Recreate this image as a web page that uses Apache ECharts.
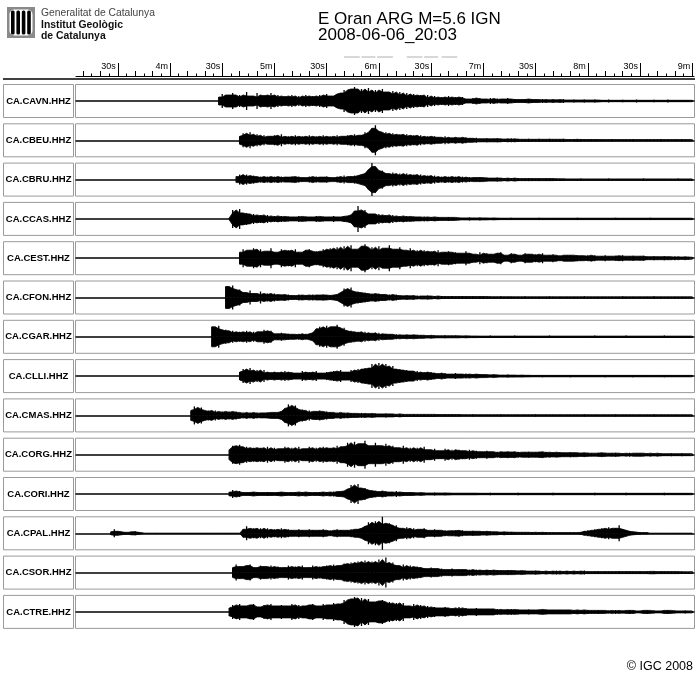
<!DOCTYPE html>
<html><head><meta charset="utf-8">
<script src="https://cdn.jsdelivr.net/npm/echarts@6/dist/echarts.min.js"></script>
<style>html,body{margin:0;padding:0;background:#fff}#c{width:700px;height:683px}</style>
</head><body><div id="c"></div><script>
// ---- data ----
const stations = ['CA.CAVN.HHZ','CA.CBEU.HHZ','CA.CBRU.HHZ','CA.CCAS.HHZ','CA.CEST.HHZ','CA.CFON.HHZ','CA.CGAR.HHZ','CA.CLLI.HHZ','CA.CMAS.HHZ','CA.CORG.HHZ','CA.CORI.HHZ','CA.CPAL.HHZ','CA.CSOR.HHZ','CA.CTRE.HHZ'];
// time (s after 20:03) of first envelope sample for each station
const traceStart = [268,280,278,274,280,272,264,280,252,274,274,206,276,274];
const SAMPLE_STEP = 2; // seconds between envelope samples
const timeMin = 186, timeMax = 541;
const majorTicks = [210,240,270,300,330,360,390,420,450,480,510,540];
const tickLabels = ['30s','4m','30s','5m','30s','6m','30s','7m','30s','8m','30s','9m'];
const markSegments = [[340,349],[350,358],[359,368],[376,385],[386,394],[396,405]];

// envelope half-amplitudes (px-like units)
const cavn = [4,7,3,6,8,4,6,3,9,5,4,8,3,6,5,8,4,6,
 3,5,4,6,3,5,2,6,4,5,3,6,4,7,5,4,7,
 8,11,6,12,14,7,12,9,13,8,11,6,12,9,7,10,6,9,
 5,8,4,7,5,6,3,6,
 3,5,2,4,3,5,2,4,3,4,2,
 2,3,1.5,3,2,1.5,3,1.5,2.5,1.5,2,3,1.5,2,1.5,
 1.5,2,1,2,1.5,1,2,1,1.5,1,1.5,1,2,1,1,1.5,1,1,1.5,1,1,1.5,1,
 0.7,0.7,1.5,0.7,0.7,0.7,1.2,0.7,0.7,0.7,1.5,0.7,0.7,0.7,0.7,1.2,0.7,0.7,0.7,1.5,0.7,0.7,0.7,0.7,1,0.7,0.7];
const cbeu = [4,7,5,8,4,6,
 3,5,2,4,5,3,6,2,4,3,5,2,4,3,5,3,4,2,5,3,4,3,5,2,4,5,3,6,4,
 5,8,6,12,15,9,6,8,
 4,7,5,6,3,6,4,5,3,5,
 3,4,2,4,3,2,4,2,3,2,3,1.5,3,2,1.5,2.5,1.5,
 1.5,2,1,1.5,2,1,1.5,1,2,1,1.5,1,1,1.5,1,1,1.5,1,0.8,1.5,1,0.8,1,1.5,0.8,0.8,1,0.8,1.2,0.8,0.8,1,0.8,0.8,
 0.7,0.7,0.7,1.2,0.7,0.7,0.7,0.7,0.7,1.2,0.7,0.7,0.7,0.7,0.7,0.7,0.7,1.2,0.7,0.7,0.7,0.7,0.7,1,0.7,0.7,0.7];
const cbru = [3,5,2,5,3,4,2,
 3,2,3,1.5,3,2,3,1.5,2.5,3,1.5,3,2,1.5,3,2,3,1.5,2.5,3,2,1.5,3,2,4,2,3,4,3,5,
 6,10,17,13,8,9,6,
 5,7,4,6,3,6,4,5,3,5,
 3,4,2,4,2,3,2,3,2,3,1.5,3,1.5,2.5,1.5,2,2.5,
 1.5,2,1,1.5,2,1,1.5,1,1.5,1,1.5,1,1,1.5,1,1,1.2,0.8,1,1.2,0.8,1,0.8,0.8,
 0.7,0.7,0.7,0.7,1.2,0.7,0.7,0.7,0.7,0.7,0.7,0.7,1.2,0.7,0.7,0.7,0.7,0.7,0.7,0.7,0.7,0.7,1.2,0.7,0.7,0.7,0.7,0.7,0.7,0.7,0.7,0.7,1,0.7,0.7,0.7,0.7];
const ccas = [1,9,6,10,5,
 6,3,5,3,4,2,4,
 2,3,1.5,3,2,2.5,1.5,2,3,1.5,2.5,2,1.5,3,2,2.5,1.5,2,3,2,1.5,3,2.5,
 4,8,13,7,9,5,
 5,3,5,3,4,2,4,2,3,
 2,3,1.5,2.5,2,1.5,2.5,1.5,2,1.5,2,1.5,1,2,1.5,1,1.5,1,1,1.5,1,1,1.5,1,0.8,1,0.8,1,
 0.7,0.7,0.7,1.2,0.7,0.7,0.7,0.7,0.7,0.7,0.7,1.2,0.7,0.7,0.7,0.7,0.7,0.7,0.7,0.7,0.7,0.7,1.2,0.7,0.7,0.7,0.7,0.7,
 0.7,0.7,0.7,0.7,0.7,1.2,0.7,0.7,0.7,0.7,0.7,0.7,0.7,0.7,0.7,1.2,0.7,0.7,0.7,0.7,0.7,0.7,0.7,0.7,0.7,0.7,0.7,0.7];
const cest = [6,9,5,8,10,6,9,5,7,10,6,5,9,7,8,4,9,6,5,8,9,5,7,6,9,7,10,
 8,11,7,12,8,13,9,7,12,14,8,11,7,12,8,10,13,7,9,11,8,7,10,6,8,
 5,8,6,7,4,8,5,6,7,4,6,5,4,7,5,4,3,6,
 3,5,4,3,5,6,3,2,5,4,3,2,5,4,2,4,3,5,2,3,4,2,3,
 2,3,3,2,3,2.5,1.5,3,2,3,1.5,2,3,2,1.5,2.5,2,3,1.5,2,2.5,1.5,2,2.5,1.5,
 1.5,2,1.5,1,2,1.5,1,2,1,1.5,1,1.5,1];
const cfon = [11,9,12,7,
 8,5,4,7,4,3,6,3,4,
 2,4,2.5,3,1.5,3,2,1.5,3,2,2.5,1.5,3,2,2.5,3,1.5,2.5,2,3,
 5,9,7,10,5,6,
 4,5,3,4,2,4,3,2,3,2,3,1.5,
 2,1.5,2,1,2,1,1.5,2,1,1.5,1,1.5,1,1,1.5,1,1,1.5,1,1,1.2,0.8,1,1.2,0.8,1,0.8,0.8,1.2,0.8,0.8,0.8,
 0.7,0.7,0.7,1.2,0.7,0.7,0.7,0.7,0.7,0.7,1.2,0.7,0.7,0.7,0.7,0.7,0.7,0.7,0.7,0.7,1.2,0.7,0.7,0.7,0.7,0.7,
 0.7,0.7,0.7,0.7,0.7,1.2,0.7,0.7,0.7,0.7,0.7,0.7,0.7,0.7,1.2,0.7,0.7,0.7,0.7,0.7,0.7,0.7,0.7,0.7,0.7,0.7];
const cgar = [10,8,11,6,
 7,4,6,3,5,4,6,3,5,3,5,
 7,5,6,
 2,3,4,2,3,2.5,1.5,3,2,3,2,4,
 8,10,7,11,8,10,12,7,9,5,
 6,4,5,3,5,3,4,2,4,2,3,2.5,
 1.5,2.5,1.5,2,1.5,2,1,2,1.5,1,1.5,1,1.5,1,1,1.5,1,1,1.2,0.8,1,0.8,1,0.8,0.8,
 0.7,0.7,0.7,1.2,0.7,0.7,0.7,0.7,0.7,0.7,1.2,0.7,0.7,0.7,0.7,0.7,0.7,0.7,0.7,0.7,1.2,0.7,0.7,0.7,0.7,0.7,0.7,0.7,0.7,0.7,0.7,
 0.7,0.7,1.2,0.7,0.7,0.7,0.7,0.7,0.7,0.7,0.7,1.2,0.7,0.7,0.7,0.7,0.7,0.7,0.7,0.7,0.7,0.7,1.2,0.7,0.7,0.7,0.7,0.7,0.7,0.7,0.7];
const clli = [4,7,5,8,4,6,3,6,3,
 4,2,4,3,5,2,4,3,2,5,3,4,2,5,3,2,4,3,5,4,6,3,
 4,6,4,7,5,8,7,
 12,8,13,9,12,7,10,
 6,7,4,6,5,3,5,3,4,
 3,4,2,3,2,3,2,1.5,3,2,1.5,2.5,
 1.5,2,1,2,1.5,1,1.5,1,1.5,1,1,1.5,1,0.8,1.2,0.8,1,0.8,
 0.7,0.7,0.7,1.2,0.7,0.7,0.7,0.7,0.7,0.7,0.7,1.2,0.7,0.7,0.7,0.7,0.7,0.7,0.7,0.7,0.7,1.2,0.7,0.7,
 0.7,0.7,0.7,0.7,0.7,1.2,0.7,0.7,0.7,0.7,0.7,0.7,0.7,0.7,1.2,0.7,0.7,0.7,0.7,0.7,0.7,0.7,0.7];
const cmas = [5,9,6,8,4,
 5,3,5,3,4,2,4,3,4,2,
 3,2,3,1.5,3,2,2.5,3,2,3,3,4,
 7,11,8,10,5,
 6,3,5,3,4,5,2,4,3,2,3,
 2,3,1.5,2.5,2,1.5,2.5,1.5,2,1.5,2,1.5,1,2,1.5,
 1,1.5,1,1.5,1,1,1.5,1,1,1.2,0.8,1,1.2,0.8,0.8,1,0.8,0.8,0.8,0.8,
 0.7,0.7,0.7,1.2,0.7,0.7,0.7,0.7,0.7,0.7,0.7,1.2,0.7,0.7,0.7,0.7,0.7,0.7,0.7,0.7,0.7,1.2,0.7,0.7,0.7,0.7,0.7,0.7,0.7,0.7,0.7,0.7,0.7,
 0.7,0.7,1.2,0.7,0.7,0.7,0.7,0.7,0.7,0.7,0.7,1.2,0.7,0.7,0.7,0.7,0.7,0.7,0.7,0.7,0.7,0.7,1.2,0.7,0.7,0.7,0.7,0.7,0.7,0.7,0.7,0.7,0.7,0.7];
const corg = [5,9,8,10,6,8,5,7,6,
 7,5,8,4,7,5,6,8,5,7,4,8,5,6,8,5,7,4,8,6,7,5,9,6,
 8,12,9,13,8,11,14,9,8,12,9,8,11,7,9,7,
 6,9,5,7,5,7,4,8,5,4,6,4,
 4,6,3,5,3,5,4,3,5,3,4,3,2,4,3,2,
 3,2,3,2.5,3,2,3,2,2.5,3,2,2.5,3,2,3,2,2.5,2,2.5,2,1.5,2.5,2,1.5,
 2,1.5,2,1.5,1,2,1.5,2,1,1.5,2,1,1.5,1,2,1,1.5,1.5,1,1.5,1,1.5,1,1.5,1,1,1.5,1,1,1.5,1,1,1];
const cori = [2,4,2,3,1.5,
 1.5,2,1,2,1.5,1,2,1.5,1,2,1.5,2,1,1.5,2,1,2,1.5,2,1,1.5,2,1.5,2,1.5,2.5,1.5,2.5,3,
 5,9,6,10,5,6,3,
 4,2,3,2,3,2,1.5,3,1.5,2,1.5,
 1.5,1,1.5,1,1.5,1,1,1.5,1,1,1.2,0.8,1,0.8,0.8,1,0.8,0.8,0.8,0.8,
 0.7,0.7,0.7,1.2,0.7,0.7,0.7,0.7,0.7,0.7,0.7,1.2,0.7,0.7,0.7,0.7,0.7,0.7,0.7,0.7,0.7,1.2,0.7,0.7,0.7,0.7,0.7,0.7,0.7,0.7,0.7,
 0.7,0.7,1.2,0.7,0.7,0.7,0.7,0.7,0.7,0.7,0.7,1.2,0.7,0.7,0.7,0.7,0.7,0.7,0.7,0.7,0.7,0.7,1.2,0.7,0.7,0.7,0.7,0.7,0.7,0.7,0.7];
const cpal = [1.5,4,2,1.5,1,0.5,1.5,2,1,0.5,
 0,0,0,0,0,0,0,0,0,0,0,0,0,0,0,0,0,0,0,0,0,0,0,0,0,0,0,0,
 4,7,4,5,3,5,
 3,5,2,4,3,5,2,4,3,2,4,3,2,4,3,2,3,4,2,3,2,4,3,2,3,4,2,4,5,
 7,11,8,12,9,17,9,10,6,8,5,
 4,6,3,5,3,4,5,3,2,4,3,
 2,3,2,2.5,3,1.5,3,2,1.5,2.5,2,1.5,2,1.5,2,1.5,
 1,1.5,1,1.5,1,1.2,0.8,1,1,0.8,1.2,0.8,1,0.7,1.2,0.7,0.7,0.7,
 0.7,0.7,0.5,0.7,0.7,0.7,1,
 2,3,2,4,3,5,4,6,4,5,8,4,3,2,
 1.5,0.7,1.2,0.7,0.7,
 0,0,0,0,0,0,0,0,0,0,0,0,0];
const csor = [5,8,6,4,7,8,5,4,7,6,4,7,5,6,4,5,7,4,6,5,7,4,5,7,4,6,5,7,6,8,5,
 7,9,8,10,8,11,9,12,9,11,8,13,9,15,8,10,7,
 5,8,5,7,4,6,5,4,3,5,4,3,
 4,2,3,4,2,3,3,2,3,2,3,2,2.5,2,2.5,1.5,2.5,2,1.5,2.5,2,1.5,2,
 1.5,2,1,1.5,2,1,1.5,1,1.5,1,2,1,1.5,1,1.5,1,1.5,1,2,1,
 0.8,1,1.2,0.8,1,1.2,0.8,1,1.5,0.8,1,1.2,0.8,1,1.2,0.8,1,1.2,1.5,0.8,1,1.2,0.8,1,1.2,0.8,1,0.8,0.8,1];
const ctre = [4,7,5,8,6,4,7,8,5,4,7,6,8,4,6,7,4,6,8,5,7,4,6,7,8,5,6,8,5,7,9,7,
 8,12,9,13,15,10,14,9,13,10,8,11,12,8,10,7,9,
 6,9,6,5,8,5,7,4,6,4,
 5,3,4,5,3,4,3,5,2,4,3,2,4,3,2,3,
 3,2,3,2,2.5,2,3,2,2.5,2,1.5,2.5,2,1.5,2.5,2,2.5,1.5,2,2,1.5,2,2,1.5,2,1.5,2,1.5,2,1.5,1.5,2,
 1.5,1,1.5,1,2,1,1.5,1,2,1.5,1,1,1.5,2,1,1.5,1,1,1.5,2,1,1.5,1,1,1.5,1,1];
const traces = [cavn,cbeu,cbru,ccas,cest,cfon,cgar,clli,cmas,corg,cori,cpal,csor,ctre];

// ---- layout ----
const FONT = "'Liberation Sans', Arial, Helvetica, sans-serif";
const PLOT_L = 76, PLOT_W = 618;
const ROW_TOP0 = 84.5, ROW_STEP = 39.3, ROW_H = 33, AMP_MAX = 16.5;
const AXIS_Y = 76;

const grid = [{left: PLOT_L, width: PLOT_W, top: 40, height: AXIS_Y - 40}];
const xAxis = [];
const yAxis = [{gridIndex: 0, type: 'value', min: 0, max: AXIS_Y - 40, show: false}];
const series = [];

const mediumTicks = [], smallTicks = [];
for (let t = 190; t <= timeMax; t += 5) {
  if (t % 30 === 0) continue;
  if (t % 10 === 0) mediumTicks.push(t); else smallTicks.push(t);
}
const tickAxis = (vals, len, withLabels, lineShow) => ({
  gridIndex: 0, type: 'value', min: timeMin, max: timeMax, position: 'bottom', offset: 0,
  axisLine: {show: lineShow, onZero: false, lineStyle: {color: '#000', width: 1}},
  axisTick: {show: true, inside: true, length: len, customValues: vals, lineStyle: {color: '#000', width: 1}},
  axisLabel: withLabels ? {
    show: true, inside: true, customValues: vals, margin: 5,
    formatter: v => tickLabels[majorTicks.indexOf(Math.round(v))] || '',
    align: 'right', padding: [0, 2, 0, 0], fontSize: 9, color: '#000', fontFamily: FONT
  } : {show: false},
  splitLine: {show: false}
});
xAxis.push(tickAxis(majorTicks, 13, true, true));
xAxis.push(tickAxis(mediumTicks, 5, false, false));
xAxis.push(tickAxis(smallTicks, 2.5, false, false));

// phase marker dashes above the time axis
const markData = [];
markSegments.forEach(s => { markData.push([s[0], 19], [s[1], 19], [s[1], '-']); });
series.push({type: 'line', xAxisIndex: 0, yAxisIndex: 0, data: markData, showSymbol: false,
  lineStyle: {color: '#b0b0b0', width: 1}, silent: true});

// needle glyph: a thin vertical stroke from -amplitude to +amplitude
const needle = (params, api) => {
  const t = api.value(0), v = api.value(1);
  const a = api.coord([t, v]), b = api.coord([t, -v]);
  return {type: 'line', shape: {x1: a[0], y1: a[1], x2: b[0], y2: b[1]},
    style: {stroke: '#000', lineWidth: 1.3}};
};
const median3 = (a, b, c) => a + b + c - Math.max(a, b, c) - Math.min(a, b, c);

const graphics = [];
stations.forEach((name, s) => {
  const top = ROW_TOP0 + ROW_STEP * s;
  grid.push({left: PLOT_L, width: PLOT_W, top: top, height: ROW_H});
  const xi = xAxis.length, yi = yAxis.length;
  xAxis.push({gridIndex: s + 1, type: 'value', min: timeMin, max: timeMax,
    axisLine: {show: true, onZero: true, lineStyle: {color: '#000', width: 1.5}},
    axisTick: {show: false}, axisLabel: {show: false}, splitLine: {show: false}});
  yAxis.push({gridIndex: s + 1, type: 'value', min: -AMP_MAX, max: AMP_MAX, show: false});
  const tr = traces[s];
  const pts = tr.map((v, k) => [traceStart[s] + k * SAMPLE_STEP, v]);
  // dense core of the trace: the local median of the envelope around each sample
  const core = tr.map((v, k) => median3(k > 0 ? tr[k - 1] : v, v, k < tr.length - 1 ? tr[k + 1] : v));
  const up = core.map((c, k) => [pts[k][0], c]);
  const dn = core.map((c, k) => [pts[k][0], -c]);
  [up, dn].forEach(d => series.push({type: 'line', xAxisIndex: xi, yAxisIndex: yi, data: d,
    showSymbol: false, silent: true, lineStyle: {color: '#000', width: 0.8},
    areaStyle: {color: '#000', opacity: 1}}));
  series.push({type: 'custom', xAxisIndex: xi, yAxisIndex: yi, data: pts, renderItem: needle,
    silent: true, clip: true});
  graphics.push({type: 'rect', shape: {x: 3.5, y: top, width: 70, height: ROW_H},
    style: {fill: 'none', stroke: '#9a9a9a', lineWidth: 1}});
  graphics.push({type: 'rect', shape: {x: 75.5, y: top, width: 619, height: ROW_H}, z: -1,
    style: {fill: 'none', stroke: '#9a9a9a', lineWidth: 1}});
  graphics.push({type: 'text', x: 38.5, y: top + ROW_H / 2,
    style: {text: name, font: 'bold 9.5px ' + FONT, fill: '#000', textAlign: 'center', textVerticalAlign: 'middle'}});
});

// separator under the time axis
graphics.push({type: 'line', shape: {x1: 3, y1: 79, x2: 695, y2: 79}, style: {stroke: '#000', lineWidth: 1.6}});
// logo
graphics.push({type: 'rect', shape: {x: 7, y: 7, width: 28, height: 31}, style: {fill: '#8a8a8a'}});
graphics.push({type: 'rect', shape: {x: 9.5, y: 9.5, width: 23, height: 26, r: 5}, style: {fill: '#fff'}});
[11, 16.4, 21.8, 27.2].forEach(bx => graphics.push({type: 'rect', shape: {x: bx, y: 10.5, width: 3.6, height: 24, r: 1.5}, style: {fill: '#000'}}));
graphics.push({type: 'text', x: 41, y: 13.5, style: {text: 'Generalitat de Catalunya', font: '10.3px ' + FONT, fill: '#444', textVerticalAlign: 'middle'}});
graphics.push({type: 'text', x: 41, y: 25, style: {text: 'Institut Geològic', font: 'bold 10.4px ' + FONT, fill: '#111', textVerticalAlign: 'middle'}});
graphics.push({type: 'text', x: 41, y: 36.5, style: {text: 'de Catalunya', font: 'bold 10.4px ' + FONT, fill: '#111', textVerticalAlign: 'middle'}});
// title
graphics.push({type: 'text', x: 318, y: 19, style: {text: 'E Oran ARG M=5.6 IGN', font: '17px ' + FONT, fill: '#000', textVerticalAlign: 'middle'}});
graphics.push({type: 'text', x: 318, y: 35, style: {text: '2008-06-06_20:03', font: '17px ' + FONT, fill: '#000', textVerticalAlign: 'middle'}});
// copyright
graphics.push({type: 'text', x: 693, y: 667, style: {text: '© IGC 2008', font: '12.5px ' + FONT, fill: '#000', textAlign: 'right', textVerticalAlign: 'middle'}});

const chart = echarts.init(document.getElementById('c'), null, {renderer: 'canvas'});
chart.setOption({
  animation: false,
  backgroundColor: '#fff',
  grid, xAxis, yAxis, series,
  graphic: {elements: graphics}
});
</script></body></html>
